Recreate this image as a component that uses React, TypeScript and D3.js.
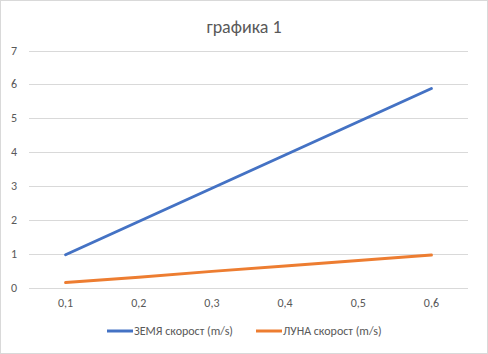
import React, { useRef, useEffect } from "react";
import * as d3 from "d3";

const categories = ["0,1", "0,2", "0,3", "0,4", "0,5", "0,6"];
const earthSpeed = [0.98, 1.96, 2.94, 3.92, 4.9, 5.88];
const moonSpeed = [0.16, 0.32, 0.49, 0.65, 0.81, 0.97];
const yTicks = [0, 1, 2, 3, 4, 5, 6, 7];
const seriesNames = ["ЗЕМЯ скорост (m/s)", "ЛУНА скорост (m/s)"];
const seriesColors = ["#4472C4", "#ED7D31"];

const width = 488;
const height = 354;
const font = "Carlito, Calibri, 'Liberation Sans', Arial, sans-serif";

const App: React.FC = () => {
  const svgRef = useRef<SVGSVGElement | null>(null);

  useEffect(() => {
    const svg = d3.select(svgRef.current);
    svg.selectAll("*").remove();

    svg
      .append("rect")
      .attr("x", 0.5)
      .attr("y", 0.5)
      .attr("width", width - 1)
      .attr("height", height - 1)
      .attr("fill", "#fff")
      .attr("stroke", "#d9d9d9");

    const x = d3.scaleBand().domain(categories).range([29, 468]);
    const y = d3.scaleLinear().domain([0, 7]).range([288, 50.5]);

    // title
    svg
      .append("text")
      .attr("x", width / 2)
      .attr("y", 33)
      .attr("text-anchor", "middle")
      .attr("font-family", font)
      .attr("font-size", 18)
      .attr("fill", "#595959")
      .text("графика 1");

    // grid
    svg
      .append("g")
      .selectAll("line")
      .data(yTicks)
      .enter()
      .append("line")
      .attr("x1", 29)
      .attr("x2", 468)
      .attr("y1", (d) => Math.round(y(d)) + 0.5)
      .attr("y2", (d) => Math.round(y(d)) + 0.5)
      .attr("stroke", "#d9d9d9")
      .attr("stroke-width", 1);

    // y labels
    svg
      .append("g")
      .selectAll("text")
      .data(yTicks)
      .enter()
      .append("text")
      .attr("x", 17)
      .attr("y", (d) => y(d) + 4)
      .attr("text-anchor", "end")
      .attr("font-family", font)
      .attr("font-size", 12)
      .attr("fill", "#595959")
      .text((d) => String(d));

    // x labels
    svg
      .append("g")
      .selectAll("text")
      .data(categories)
      .enter()
      .append("text")
      .attr("x", (d) => (x(d) ?? 0) + x.bandwidth() / 2)
      .attr("y", 307)
      .attr("text-anchor", "middle")
      .attr("font-family", font)
      .attr("font-size", 12)
      .attr("fill", "#595959")
      .text((d) => d);

    const line = d3
      .line<number>()
      .x((_, i) => (x(categories[i]) ?? 0) + x.bandwidth() / 2)
      .y((d) => y(d));

    [earthSpeed, moonSpeed].forEach((s, i) => {
      svg
        .append("path")
        .datum(s)
        .attr("d", line)
        .attr("fill", "none")
        .attr("stroke", seriesColors[i])
        .attr("stroke-width", 3)
        .attr("stroke-linecap", "round");
    });

    // legend
    const legendX = [107, 256];
    seriesNames.forEach((name, i) => {
      const g = svg.append("g").attr("transform", `translate(${legendX[i]},331)`);
      g.append("line")
        .attr("x1", 0)
        .attr("x2", 26)
        .attr("y1", 0)
        .attr("y2", 0)
        .attr("stroke", seriesColors[i])
        .attr("stroke-width", 3);
      g.append("text")
        .attr("x", 27)
        .attr("y", 4)
        .attr("font-family", font)
        .attr("font-size", 12)
        .attr("fill", "#595959")
        .text(name);
    });
  }, []);

  return (
    <svg
      ref={svgRef}
      width={width}
      height={height}
      style={{ position: "absolute", left: 0, top: 0 }}
    />
  );
};

export default App;
